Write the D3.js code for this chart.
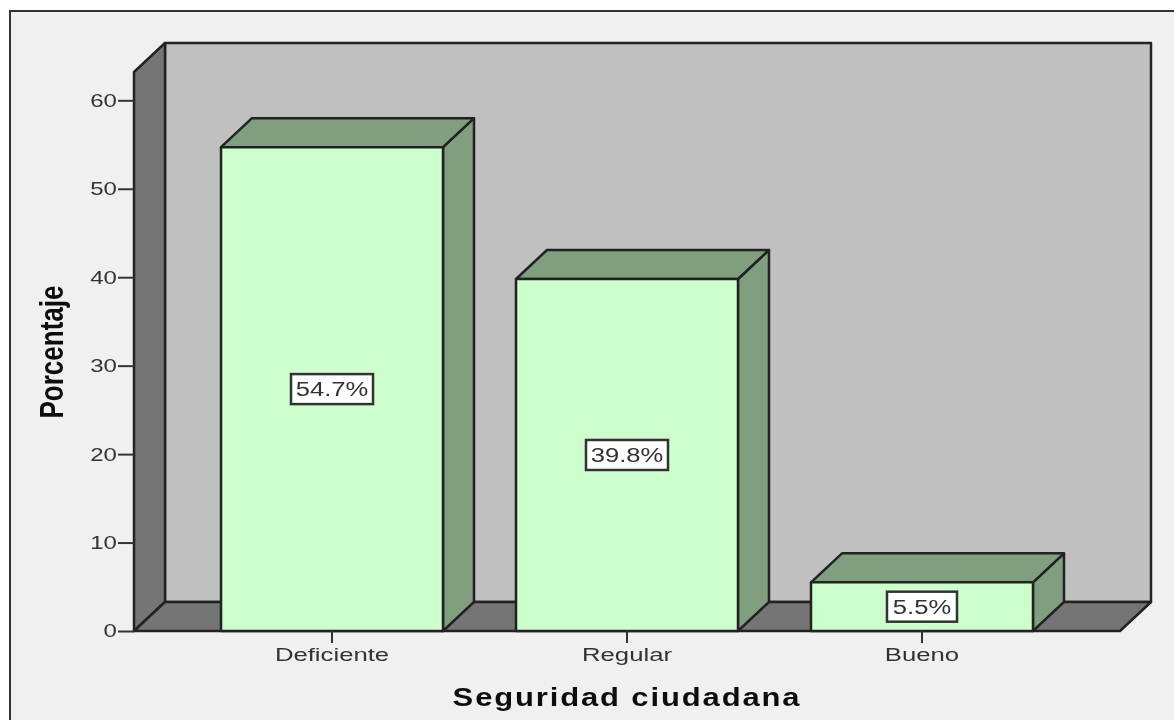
<!DOCTYPE html>
<html>
<head>
<meta charset="utf-8">
<script src="https://cdn.jsdelivr.net/npm/d3@7"></script>
<style>
    html, body { margin: 0; padding: 0; background: #fff; }
    svg { display: block; }
    text { font-family: "Liberation Sans", Arial, sans-serif; fill: #333; }
</style>
</head>
<body>
<script>
(function() {

    const width = 1174;
    const height = 720;

    const categories = ["Deficiente", "Regular", "Bueno"];
    const percentages = [54.7, 39.8, 5.5];
    const valueLabels = ["54.7%", "39.8%", "5.5%"];
    const yTicks = [0, 10, 20, 30, 40, 50, 60];

    // offset of the back wall from the front of the plot
    const depthX = 31;
    const depthY = -29;

    const line = "#222";

    let root = d3.select("body")
        .append("svg")
        .attr("width", width)
        .attr("height", height);

    // the reference is an upscaled screenshot, so everything is a bit soft
    root.append("defs")
        .append("filter")
        .attr("id", "soft")
        .attr("filterUnits", "userSpaceOnUse")
        .attr("x", 0).attr("y", 0)
        .attr("width", width).attr("height", height)
        .append("feGaussianBlur")
        .attr("stdDeviation", 0.6);

    let svg = root.append("g").attr("filter", "url(#soft)");

    svg.append("rect")
        .attr("width", width)
        .attr("height", height)
        .style("fill", "#fff");

    // outer frame
    svg.append("rect")
        .attr("x", 10)
        .attr("y", 11)
        .attr("width", 1175)
        .attr("height", 720)
        .style("fill", "#f0f0f0")
        .style("stroke", "#333")
        .style("stroke-width", 2);

    let x = d3.scaleBand()
        .domain(categories)
        .range([134, 1120])
        .paddingInner(0.2475)
        .paddingOuter(0.295);

    let y = d3.scaleLinear()
        .domain([0, 63.2])
        .range([631, 72]);

    const left = x.range()[0];
    const right = x.range()[1];
    const base = y(0);
    const top = y(63.2);

    function poly(points, fill) {
        svg.append("polygon")
            .attr("points", points.map(p => p.join(",")).join(" "))
            .style("fill", fill)
            .style("stroke", line)
            .style("stroke-width", 2.5)
            .style("stroke-linejoin", "round");
    }

    // back wall, side wall, floor
    poly([[left + depthX, top + depthY], [right + depthX, top + depthY], [right + depthX, base + depthY], [left + depthX, base + depthY]], "#c0c0c0");
    poly([[left, top], [left + depthX, top + depthY], [left + depthX, base + depthY], [left, base]], "#757575");
    poly([[left, base], [left + depthX, base + depthY], [right + depthX, base + depthY], [right, base]], "#757575");

    // bars
    categories.forEach(function(c, i) {
        let x0 = x(c);
        let x1 = x0 + x.bandwidth();
        let yTop = y(percentages[i]);

        poly([[x1, yTop], [x1 + depthX, yTop + depthY], [x1 + depthX, base + depthY], [x1, base]], "#7f9f7f");
        poly([[x0, yTop], [x0 + depthX, yTop + depthY], [x1 + depthX, yTop + depthY], [x1, yTop]], "#7f9f7f");
        poly([[x0, yTop], [x1, yTop], [x1, base], [x0, base]], "#ccffcc");
    });

    // axes
    let yAxis = svg.append("g")
        .attr("transform", "translate(" + left + ",0)")
        .call(d3.axisLeft(y).tickValues(yTicks).tickSize(16).tickPadding(2));

    let xAxis = svg.append("g")
        .attr("transform", "translate(0," + base + ")")
        .call(d3.axisBottom(x).tickSize(12).tickPadding(4));

    [yAxis, xAxis].forEach(function(a) {
        a.select(".domain").remove();
        a.selectAll("line").style("stroke", "#333").style("stroke-width", 2);
        a.selectAll("text").style("font-size", "18.5px").style("fill", "#333").style("font-family", "\"Liberation Sans\", Arial, sans-serif");
    });

    // the picture was stretched sideways, the text has to follow
    yAxis.selectAll("text")
        .attr("x", 0)
        .attr("transform", "translate(-17,0) scale(1.3,1)");

    xAxis.selectAll("text")
        .attr("y", 0)
        .attr("dy", 0)
        .attr("transform", "translate(0,30) scale(1.39,1)");

    // value labels
    let labels = svg.selectAll(".value-label")
        .data(categories)
        .enter()
        .append("g")
        .attr("class", "value-label")
        .attr("transform", (d, i) => "translate(" + (x(d) + x.bandwidth() / 2) + "," + y(percentages[i] / 2) + ")");

    labels.append("rect")
        .attr("x", (d, i) => i == 2 ? -35 : -41)
        .attr("y", -15)
        .attr("width", (d, i) => i == 2 ? 70 : 82)
        .attr("height", 30)
        .style("fill", "#fff")
        .style("stroke", "#333")
        .style("stroke-width", 2.5);

    labels.append("text")
        .attr("text-anchor", "middle")
        .attr("dy", "0.36em")
        .attr("transform", "scale(1.28,1)")
        .style("font-size", "20px")
        .text((d, i) => valueLabels[i]);

    // axis titles
    svg.append("text")
        .attr("transform", "translate(63,352) rotate(-90) scale(1.085,1.35)")
        .attr("text-anchor", "middle")
        .style("font-size", "24px")
        .style("font-weight", "bold")
        .style("fill", "#111")
        .text("Porcentaje");

    svg.append("text")
        .attr("transform", "translate(627,706) scale(1.24,1)")
        .attr("text-anchor", "middle")
        .style("font-size", "25px")
        .style("font-weight", "bold")
        .style("letter-spacing", "1.5px")
        .style("fill", "#111")
        .text("Seguridad ciudadana");

})();
</script>
</body>
</html>
